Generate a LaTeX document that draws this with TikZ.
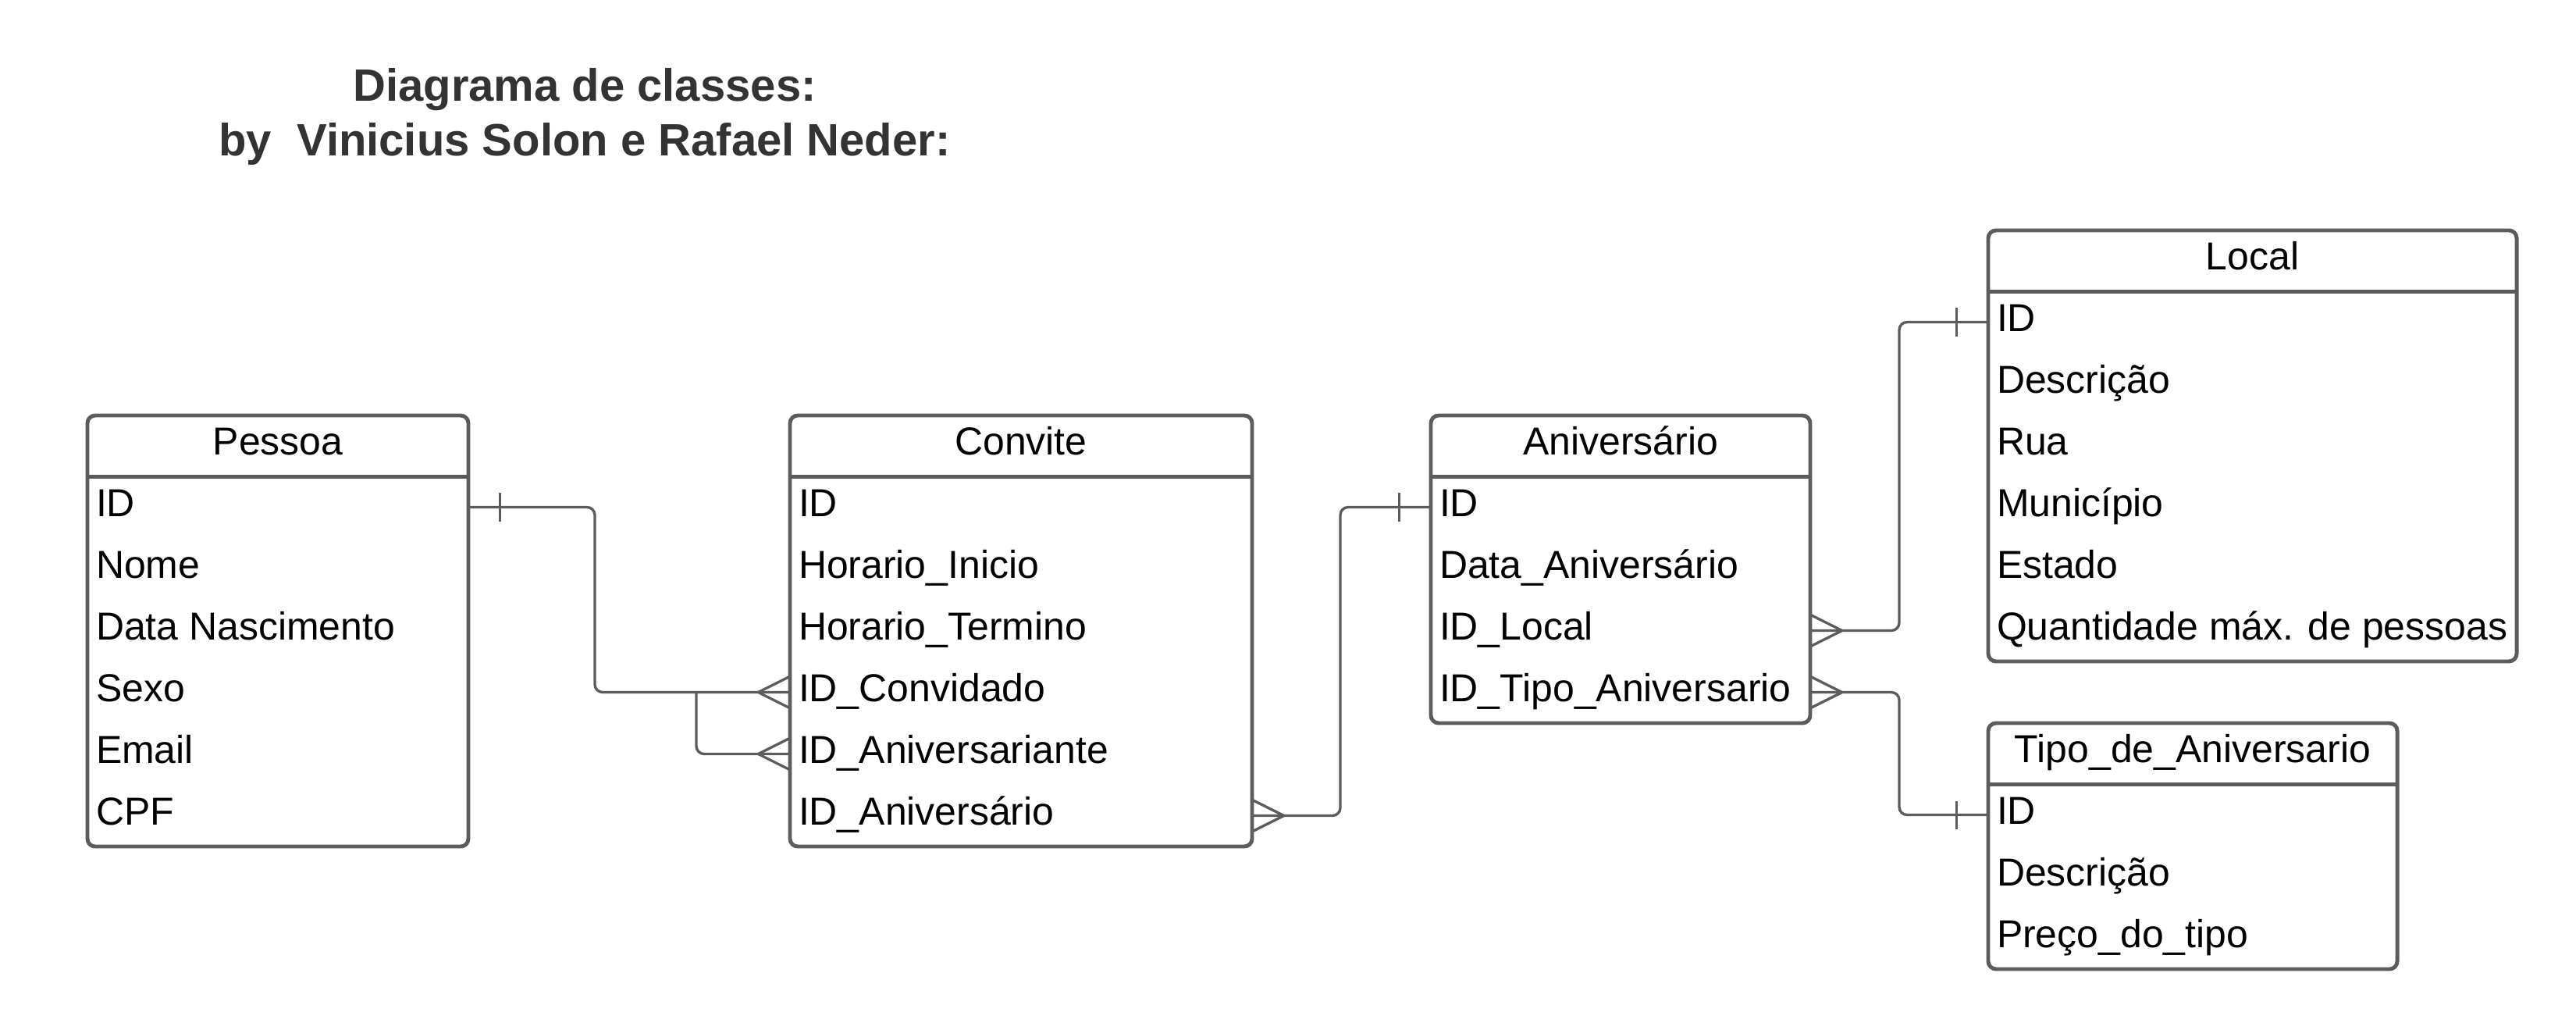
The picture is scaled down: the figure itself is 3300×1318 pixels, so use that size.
\documentclass[tikz,border=0pt]{standalone}
\usepackage{fontspec}
\setmainfont{Liberation Sans}
\usetikzlibrary{calc}
\definecolor{lineg}{HTML}{5C5C5C}
\definecolor{titleg}{HTML}{333333}
\newcommand{\erTable}[7]{% name, left, top, width, title, nrows, rows
  \node[tablebox, minimum width={#4*0.01cm}, minimum height={(78+79*#6)*0.01cm}] (#1)
     at ({#2+#4/2},{#3+(78+79*#6)/2}) {};
  \node[headbox, minimum width={#4*0.01cm}] (#1-h) at ({#2+#4/2},{#3+39}) {};
  \node[headtext] (#1-ht) at ([yshift=-0.11cm]#1-h.center) {#5};
  \draw[boxline] (#1-h.south west) -- (#1-h.south east);
  \foreach \t [count=\i] in {#7} {
    \node[rowbox, minimum width={#4*0.01cm}] (#1-\i) at ({#2+#4/2},{#3+78+79*(\i-1)+39.5}) {};
    \node[rowtext] (#1-\i-t) at ([xshift=0.11cm,yshift=-0.116cm]#1-\i.west) {\t};
  }
}
\tikzset{
  x=0.01cm, y=-0.01cm,
  tablebox/.style={draw=lineg, line width=1.4pt, rounded corners=0.1cm, rectangle, inner sep=0pt},
  headbox/.style={rectangle, inner sep=0pt, minimum height=0.78cm},
  headtext/.style={anchor=base, inner sep=0pt, font=\fontsize{14.2}{17}\selectfont},
  boxline/.style={draw=lineg, line width=1.4pt},
  rowbox/.style={rectangle, inner sep=0pt, minimum height=0.79cm},
  rowtext/.style={anchor=base west, inner sep=0pt, font=\fontsize{14.2}{17}\selectfont},
  conn/.style={draw=lineg, line width=0.95pt, rounded corners=0.1cm},
  endmark/.style={draw=lineg, line width=0.95pt},
  titletext/.style={anchor=base, font=\bfseries\fontsize{16.5}{20}\selectfont, text=titleg, inner sep=0pt},
}
\begin{document}
\begin{tikzpicture}
\useasboundingbox (0,0) rectangle (3300,1318);
\node[titletext] (t1) at (749,129) {Diagrama de classes:};
\node[titletext] (t2) at (749,199) {by\ \ Vinicius Solon e Rafael Neder:};

\erTable{pessoa}{112}{532}{488}{Pessoa}{6}{ID,Nome,Data Nascimento,Sexo,Email,CPF}
\erTable{convite}{1012}{532}{592}{Convite}{6}{ID,Horario\_Inicio,Horario\_Termino,ID\_Convidado,ID\_Aniversariante,ID\_Aniversário}
\erTable{aniv}{1833}{532}{486}{Aniversário}{4}{ID,Data\_Aniversário,ID\_Local,ID\_Tipo\_Aniversario}
\erTable{local}{2547}{295}{677}{Local}{6}{ID,Descrição,Rua,Município,Estado,Quantidade máx. de pessoas}
\erTable{tipo}{2547}{926}{524}{Tipo\_de\_Aniversario}{3}{ID,Descrição,Preço\_do\_tipo}

\coordinate (j1) at (762,0);
\coordinate (j2) at (892,0);
\coordinate (j3) at (1717,0);
\coordinate (j4) at (2433,0);

% Pessoa.ID -> Convite.ID_Convidado / ID_Aniversariante
\draw[conn] (pessoa-1.east) -- (pessoa-1.east -| j1) -- (convite-4.west -| j1) -- (convite-4.west);
\draw[conn] (convite-4.west -| j2) -- (convite-5.west -| j2) -- (convite-5.west);
% Convite.ID_Aniversario -> Aniversario.ID
\draw[conn] (convite-6.east) -- (convite-6.east -| j3) -- (aniv-1.west -| j3) -- (aniv-1.west);
% Aniversario.ID_Local -> Local.ID
\draw[conn] (aniv-3.east) -- (aniv-3.east -| j4) -- (local-1.west -| j4) -- (local-1.west);
% Aniversario.ID_Tipo -> Tipo.ID
\draw[conn] (aniv-4.east) -- (aniv-4.east -| j4) -- (tipo-1.west -| j4) -- (tipo-1.west);

% one-bars
\draw[endmark] ([xshift=0.4cm,yshift=0.18cm]pessoa-1.east) -- ([xshift=0.4cm,yshift=-0.18cm]pessoa-1.east);
\draw[endmark] ([xshift=-0.4cm,yshift=0.18cm]aniv-1.west) -- ([xshift=-0.4cm,yshift=-0.18cm]aniv-1.west);
\draw[endmark] ([xshift=-0.4cm,yshift=0.18cm]local-1.west) -- ([xshift=-0.4cm,yshift=-0.18cm]local-1.west);
\draw[endmark] ([xshift=-0.4cm,yshift=0.18cm]tipo-1.west) -- ([xshift=-0.4cm,yshift=-0.18cm]tipo-1.west);

% crow's feet
\foreach \n in {convite-4, convite-5} {
  \draw[endmark] ([yshift=0.2cm]\n.west) -- ([xshift=-0.4cm]\n.west) -- ([yshift=-0.2cm]\n.west);
}
\foreach \n in {convite-6, aniv-3, aniv-4} {
  \draw[endmark] ([yshift=0.2cm]\n.east) -- ([xshift=0.4cm]\n.east) -- ([yshift=-0.2cm]\n.east);
}
\end{tikzpicture}
\end{document}
